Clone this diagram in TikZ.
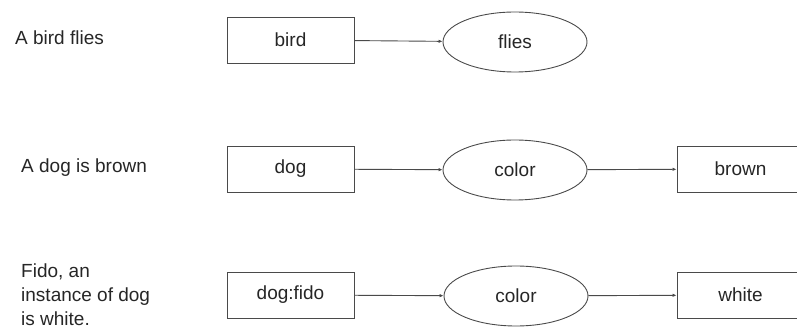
\documentclass[tikz,border=0pt]{standalone}
\usepackage{fontspec}
\setmainfont{Liberation Sans}
\usetikzlibrary{shapes.geometric,arrows.meta}
\definecolor{edgegray}{HTML}{4A4A4A}
\definecolor{inkgray}{HTML}{262626}
\tikzset{
  every node/.style={font=\fontsize{19}{24}\selectfont, text=inkgray},
  concept/.style={draw=edgegray, line width=0.9pt, rectangle,
    minimum width=127pt, minimum height=46pt, inner sep=0pt},
  relation/.style={draw=edgegray, line width=0.9pt, ellipse,
    minimum width=144pt, minimum height=60pt, inner sep=0pt},
  link/.style={draw=edgegray, line width=0.9pt,
    -{Latex[length=4pt,width=3.5pt]}},
  caption/.style={anchor=west, inner sep=0pt}
}
\begin{document}
\begin{tikzpicture}[x=1pt, y=-1pt]
  \useasboundingbox (0,0) rectangle (797,328);
  \clip (0,0) rectangle (797,328);

  % sentence captions
  \node[caption] (s1) at (15,38) {A bird flies};
  \node[caption] (s2) at (21,168) {A dog is brown};
  \node[anchor=north west, inner sep=0pt, align=left] (s3) at (21,264)
    {Fido, an\\instance of dog\\is white.};

  % row 1: bird flies
  \node[concept]  (bird)  at (290.5,40) {bird};
  \node[relation] (flies) at (515,42) {flies};
  \draw[link] (bird) -- (flies);

  % row 2: dog color brown
  \node[concept]  (dog)    at (290.5,169) {dog};
  \node[relation] (color1) at (515,170) {color};
  \node[concept]  (brown)  at (740.5,169) {brown};
  \draw[link] (dog) -- (color1);
  \draw[link] (color1) -- (brown);

  % row 3: dog:fido color white
  \node[concept]  (fido)   at (290.5,295) {dog:fido};
  \node[relation] (color2) at (516,296) {color};
  \node[concept]  (white)  at (740.5,295) {white};
  \draw[link] (fido) -- (color2);
  \draw[link] (color2) -- (white);
\end{tikzpicture}
\end{document}
